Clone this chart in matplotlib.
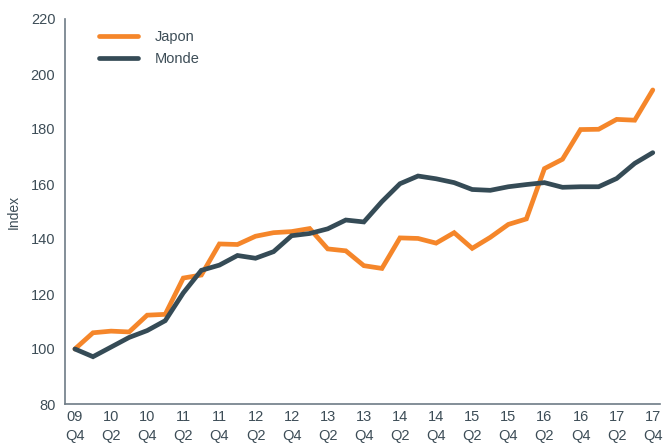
# -*- coding: utf-8 -*-

import matplotlib
matplotlib.use('Agg')
import matplotlib.pyplot as plt

# quarterly index, 09 Q4 = 100
quarters = list(range(33))
tick_labels = ['09\nQ4', '10\nQ2', '10\nQ4', '11\nQ2', '11\nQ4', '12\nQ2', '12\nQ4',
               '13\nQ2', '13\nQ4', '14\nQ2', '14\nQ4', '15\nQ2', '15\nQ4', '16\nQ2',
               '16\nQ4', '17\nQ2', '17\nQ4']

japon = [100, 105.9, 106.5, 106.2, 112.3, 112.6, 125.8, 126.9, 138.2, 138.0,
         141.0, 142.3, 142.7, 143.8, 136.4, 135.7, 130.3, 129.3, 140.4, 140.2,
         138.5, 142.3, 136.6, 140.6, 145.3, 147.3, 165.6, 169.0, 179.8, 179.9,
         183.5, 183.2, 194.2]
monde = [100, 97.2, 100.7, 104.2, 106.7, 110.3, 120.4, 128.6, 130.5, 134.0,
         133.0, 135.4, 141.2, 142.0, 143.7, 146.9, 146.2, 153.6, 160.1, 162.9,
         161.9, 160.5, 158.0, 157.7, 159.0, 159.8, 160.5, 158.8, 159.0, 159.0,
         162.0, 167.5, 171.4]

ORANGE = '#F5862A'
SLATE = '#354B56'
TEXT = '#3D4D57'
AXIS = '#6E7C86'

plt.rcParams['font.family'] = ['Liberation Sans', 'DejaVu Sans']

fig = plt.figure(figsize=(6.65, 4.46), dpi=100)
ax = fig.add_axes([65 / 665, 42 / 446, 595 / 665, 385 / 446])

ax.plot(quarters, japon, color=ORANGE, lw=3.4, solid_capstyle='round',
        solid_joinstyle='miter', label='Japon')
ax.plot(quarters, monde, color=SLATE, lw=3.4, solid_capstyle='round',
        solid_joinstyle='miter', label='Monde')

ax.set_xlim(-0.55, 32.4)
ax.set_ylim(80, 220)
ax.set_yticks(range(80, 221, 20))
ax.set_xticks(quarters[::2])
ax.set_xticklabels(tick_labels, linespacing=1.45)

for side in ['top', 'right']:
    ax.spines[side].set_visible(False)
for side in ['left', 'bottom']:
    ax.spines[side].set_color(AXIS)
    ax.spines[side].set_linewidth(1.2)

ax.tick_params(axis='both', length=0, labelsize=10.5, labelcolor=TEXT)
ax.tick_params(axis='y', pad=7)
ax.tick_params(axis='x', pad=4)

ax.set_ylabel('Index', color=TEXT, fontsize=10)
ax.yaxis.set_label_coords(-0.075, 0.5)

leg = ax.legend(loc='upper left', bbox_to_anchor=(0.035, 1.005), frameon=False,
                fontsize=10.5, handlelength=2.7, handletextpad=1.1,
                labelspacing=0.55)
for t in leg.get_texts():
    t.set_color(TEXT)

fig.savefig('out.png', dpi=100)
